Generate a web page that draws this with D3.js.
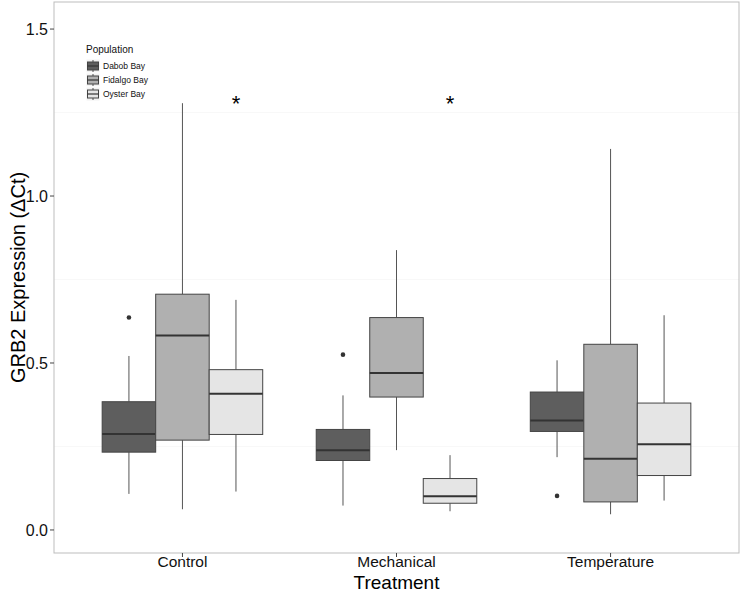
<!DOCTYPE html>
<html><head><meta charset="utf-8">
<script src="https://cdn.jsdelivr.net/npm/d3@7"></script>
<style>body{margin:0;background:#fff;} svg{display:block;font-family:"Liberation Sans",Arial,sans-serif;}</style>
</head><body>
<svg id="c" width="742" height="592"></svg>
<script>
const treatments = ["Control", "Mechanical", "Temperature"];
const populations = ["Dabob Bay", "Fidalgo Bay", "Oyster Bay"];
const fills = ["#5e5e5e", "#b0b0b0", "#e5e5e5"];
const yTicks = [0.0, 0.5, 1.0, 1.5];
// [treatment, population, lowerWhisker, q1, median, q3, upperWhisker]
const boxes = [
  ["Control", "Dabob Bay", 0.108, 0.233, 0.287, 0.384, 0.521],
  ["Control", "Fidalgo Bay", 0.062, 0.269, 0.582, 0.706, 1.278],
  ["Control", "Oyster Bay", 0.115, 0.286, 0.408, 0.480, 0.689],
  ["Mechanical", "Dabob Bay", 0.073, 0.208, 0.239, 0.301, 0.403],
  ["Mechanical", "Fidalgo Bay", 0.239, 0.398, 0.470, 0.636, 0.838],
  ["Mechanical", "Oyster Bay", 0.056, 0.080, 0.101, 0.154, 0.224],
  ["Temperature", "Dabob Bay", 0.218, 0.295, 0.328, 0.413, 0.508],
  ["Temperature", "Fidalgo Bay", 0.047, 0.084, 0.213, 0.556, 1.141],
  ["Temperature", "Oyster Bay", 0.088, 0.163, 0.257, 0.380, 0.643]
];
// [treatment, population, value]
const outliers = [
  ["Control", "Dabob Bay", 0.636],
  ["Mechanical", "Dabob Bay", 0.525],
  ["Temperature", "Dabob Bay", 0.102]
];
// significance marks [treatment, population, y]
const stars = [
  ["Control", "Oyster Bay", 1.29],
  ["Mechanical", "Oyster Bay", 1.29]
];

const svg = d3.select("#c");
const L = 54, R = 739, T = 2, B = 553;
const y = d3.scaleLinear().domain([-0.069, 1.581]).range([B, T]);
const x = d3.scalePoint().domain(treatments).range([L, R]).padding(0.6);
const step = x.step();
const inner = d3.scaleBand().domain(populations).range([-0.375 * step, 0.375 * step]);
const fillScale = d3.scaleOrdinal().domain(populations).range(fills);

// faint grid
const g = svg.append("g");
[0.25, 0.75, 1.25].forEach(v => {
  g.append("line").attr("x1", L).attr("x2", R).attr("y1", y(v)).attr("y2", y(v))
    .attr("stroke", "#f8f8f8").attr("stroke-width", 1);
});

// boxes
const bx = svg.append("g");
boxes.forEach(d => {
  const [t, p, lw, q1, med, q3, uw] = d;
  const x0 = x(t) + inner(p), w = inner.bandwidth(), cx = x0 + w / 2;
  bx.append("line").attr("x1", cx).attr("x2", cx).attr("y1", y(q3)).attr("y2", y(uw)).attr("stroke", "#555").attr("stroke-width", 1);
  bx.append("line").attr("x1", cx).attr("x2", cx).attr("y1", y(q1)).attr("y2", y(lw)).attr("stroke", "#555").attr("stroke-width", 1);
  bx.append("rect").attr("x", x0).attr("y", y(q3)).attr("width", w).attr("height", y(q1) - y(q3))
    .attr("fill", fillScale(p)).attr("stroke", "#444").attr("stroke-width", 1);
  bx.append("line").attr("x1", x0).attr("x2", x0 + w).attr("y1", y(med)).attr("y2", y(med)).attr("stroke", "#333").attr("stroke-width", 2);
});
outliers.forEach(d => {
  const cx = x(d[0]) + inner(d[1]) + inner.bandwidth() / 2;
  bx.append("circle").attr("cx", cx).attr("cy", y(d[2])).attr("r", 2.3).attr("fill", "#333");
});
stars.forEach(d => {
  const cx = x(d[0]) + inner(d[1]) + inner.bandwidth() / 2;
  svg.append("text").attr("x", cx).attr("y", y(d[2]) + 12).attr("text-anchor", "middle")
    .attr("font-size", 22).attr("fill", "#000").text("*");
});

// panel border
svg.append("rect").attr("x", L).attr("y", T).attr("width", R - L).attr("height", B - T)
  .attr("fill", "none").attr("stroke", "#bdbdbd").attr("stroke-width", 1);

// y axis
const ya = svg.append("g");
yTicks.forEach(v => {
  ya.append("line").attr("x1", L - 4).attr("x2", L).attr("y1", y(v)).attr("y2", y(v)).attr("stroke", "#444");
  ya.append("text").attr("x", L - 6).attr("y", y(v)).attr("dy", "0.35em").attr("text-anchor", "end")
    .attr("font-size", 16).attr("fill", "#111").text(d3.format(".1f")(v));
});
// x axis
treatments.forEach(t => {
  svg.append("line").attr("x1", x(t)).attr("x2", x(t)).attr("y1", B).attr("y2", B + 4).attr("stroke", "#444");
  svg.append("text").attr("x", x(t)).attr("y", B + 9).attr("dy", "0.35em").attr("text-anchor", "middle")
    .attr("font-size", 15.5).attr("fill", "#111").text(t);
});
svg.append("text").attr("x", (L + R) / 2).attr("y", 588.5).attr("text-anchor", "middle")
  .attr("font-size", 19).attr("fill", "#000").text("Treatment");
svg.append("text").attr("transform", `translate(18,${(T + B) / 2}) rotate(-90)`).attr("dy", "0.35em")
  .attr("text-anchor", "middle").attr("font-size", 20).attr("fill", "#000").text("GRB2 Expression (ΔCt)");

// legend
const lg = svg.append("g").attr("transform", "translate(86,44)");
lg.append("text").attr("x", 0).attr("y", 9).attr("font-size", 10).attr("fill", "#111").text("Population");
populations.forEach((p, i) => {
  const yy = 15 + i * 14;
  lg.append("rect").attr("x", 0).attr("y", yy).attr("width", 14).attr("height", 14).attr("fill", "#f2f2f2").attr("stroke", "#fff");
  lg.append("line").attr("x1", 7).attr("x2", 7).attr("y1", yy + 1).attr("y2", yy + 13).attr("stroke", "#555");
  lg.append("rect").attr("x", 1.5).attr("y", yy + 3).attr("width", 11).attr("height", 8).attr("fill", fillScale(p)).attr("stroke", "#444");
  lg.append("line").attr("x1", 1.5).attr("x2", 12.5).attr("y1", yy + 7).attr("y2", yy + 7).attr("stroke", "#333").attr("stroke-width", 1.2);
  lg.append("text").attr("x", 17).attr("y", yy + 7).attr("dy", "0.35em").attr("font-size", 8.5).attr("fill", "#111").text(p);
});
</script>
</body></html>
